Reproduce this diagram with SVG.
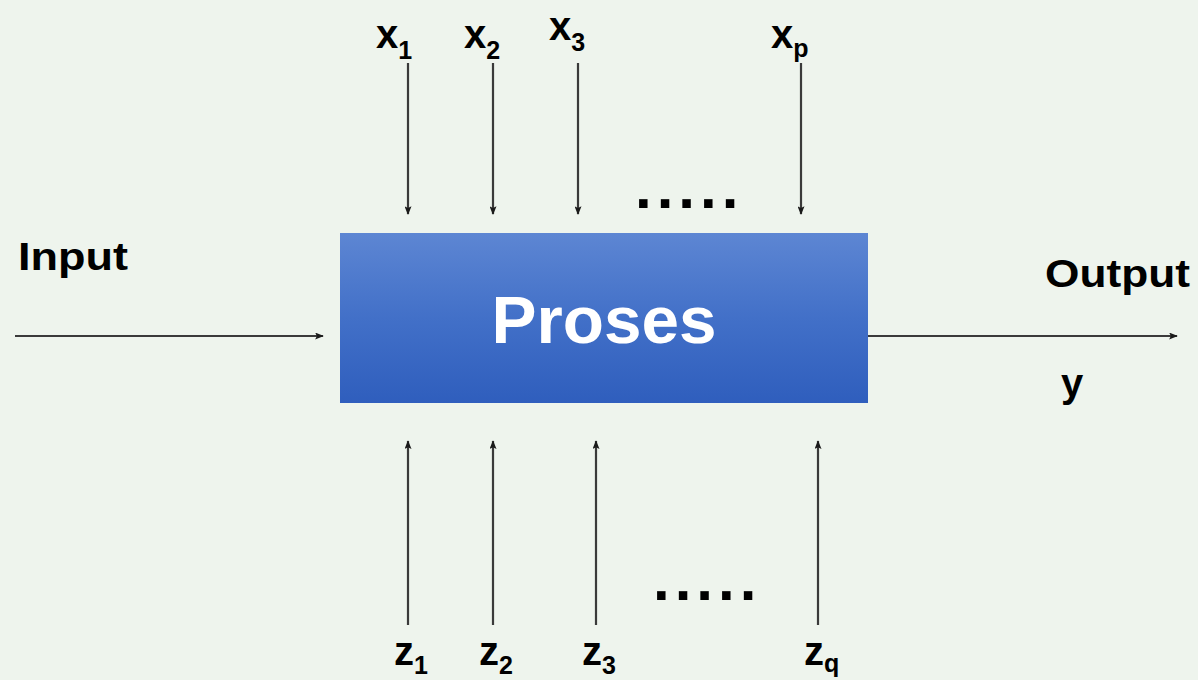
<svg xmlns="http://www.w3.org/2000/svg" width="1198" height="680" viewBox="0 0 1198 680">
<style>
.lbl{font-family:"Liberation Sans",Arial,sans-serif;font-weight:bold;fill:#000}
.var{font-family:"Liberation Sans",Arial,sans-serif;font-weight:bold;font-size:40px;fill:#000}
.sub{font-size:25px}
.conn{stroke:#3a3a3a;stroke-width:2.2;fill:none;marker-end:url(#ah)}
.dots{font-family:"Liberation Sans",Arial,sans-serif;font-weight:bold;font-size:60px;letter-spacing:5px;fill:#000}
</style>
<defs>
<linearGradient id="boxg" x1="0" y1="0" x2="0" y2="1">
<stop offset="0" stop-color="#5d86d3"/>
<stop offset="0.5" stop-color="#4270c8"/>
<stop offset="1" stop-color="#2f5ebd"/>
</linearGradient>
<marker id="ah" viewBox="0 0 10 8" refX="9" refY="4" markerWidth="9" markerHeight="7" markerUnits="userSpaceOnUse" orient="auto">
<path d="M0,0 L10,4 L0,8 L2,4 z" fill="#1a1a1a"/>
</marker>
</defs>
<rect width="1198" height="680" fill="#eef4ed"/>

<g id="connectors">
<line class="conn" x1="408" y1="63" x2="408" y2="214"/>
<line class="conn" x1="493" y1="63" x2="493" y2="214"/>
<line class="conn" x1="578" y1="63" x2="578" y2="214"/>
<line class="conn" x1="801" y1="63" x2="801" y2="214"/>
<line class="conn" x1="408" y1="625" x2="408" y2="441"/>
<line class="conn" x1="493" y1="625" x2="493" y2="441"/>
<line class="conn" x1="596" y1="625" x2="596" y2="441"/>
<line class="conn" x1="818" y1="625" x2="818" y2="441"/>
<line class="conn" x1="15" y1="336" x2="323" y2="336"/>
<line class="conn" x1="868" y1="336" x2="1177" y2="336"/>
</g>

<g id="proses">
<rect x="340" y="233" width="528" height="170" fill="url(#boxg)"/>
<text class="lbl" x="604" y="343" font-size="66" fill="#fff" style="fill:#fff" text-anchor="middle" textLength="225" lengthAdjust="spacingAndGlyphs">Proses</text>
</g>

<g id="input"><text class="lbl" x="18" y="270" font-size="39" textLength="110" lengthAdjust="spacingAndGlyphs">Input</text></g>
<g id="output"><text class="lbl" x="1045" y="287" font-size="38" textLength="145" lengthAdjust="spacingAndGlyphs">Output</text></g>
<g id="y"><text class="lbl" x="1061" y="397" font-size="40">y</text></g>

<g id="x1"><text class="var" x="376" y="48">x<tspan class="sub" dy="11">1</tspan></text></g>
<g id="x2"><text class="var" x="464" y="48">x<tspan class="sub" dy="11">2</tspan></text></g>
<g id="x3"><text class="var" x="549" y="40">x<tspan class="sub" dy="11">3</tspan></text></g>
<g id="xp"><text class="var" x="771" y="48">x<tspan class="sub" dy="9">p</tspan></text></g>

<g id="z1"><text class="var" x="394" y="665">z<tspan class="sub" dy="9">1</tspan></text></g>
<g id="z2"><text class="var" x="479" y="665">z<tspan class="sub" dy="9">2</tspan></text></g>
<g id="z3"><text class="var" x="582" y="665">z<tspan class="sub" dy="9">3</tspan></text></g>
<g id="zq"><text class="var" x="804" y="665">z<tspan class="sub" dy="7">q</tspan></text></g>

<g id="dots-top"><text class="dots" x="635" y="208">.....</text></g>
<g id="dots-bottom"><text class="dots" x="653" y="600">.....</text></g>
</svg>
